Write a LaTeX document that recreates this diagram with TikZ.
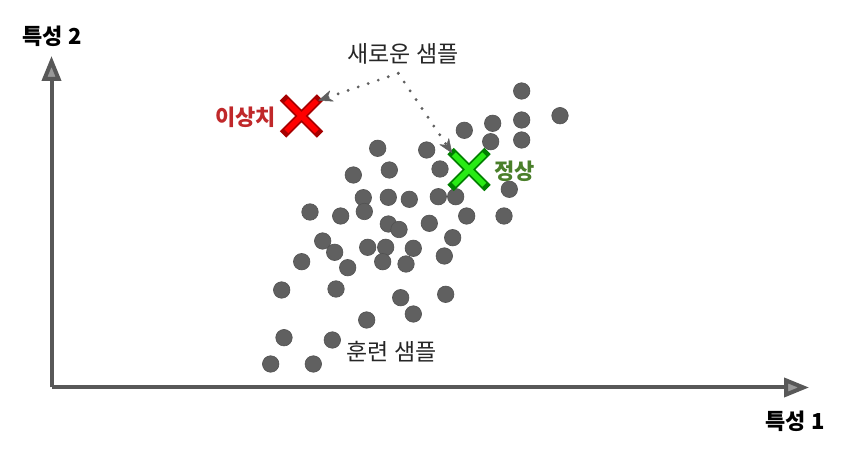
\documentclass[tikz,border=0pt]{standalone}
\usepackage{fontspec}
\setmainfont{Noto Sans CJK KR}
\usetikzlibrary{arrows.meta,shapes.misc}

\definecolor{dotgray}{HTML}{606060}
\definecolor{axisgray}{HTML}{585858}
\definecolor{outred}{HTML}{C0282A}
\definecolor{inlgreen}{HTML}{4A7F2A}

\tikzset{
  sample/.style={circle, fill=dotgray, draw=dotgray!85!black, line width=0.6pt, minimum size=16.5pt, inner sep=0pt},
  axis/.style={draw=axisgray, line width=4pt, -{Triangle[length=25pt, width=19pt, fill=gray!80]}},
  newarrow/.style={draw=gray!75!black, line width=3.2pt, dash pattern=on 0pt off 10.6pt, line cap=round, -{Stealth[length=15pt, width=12pt, round, line width=0.5pt]}},
  label/.style={font=\fontsize{23}{26}\selectfont, inner sep=0pt},
  boldlabel/.style={font=\fontsize{22}{26}\selectfont\bfseries, inner sep=0pt},
  xmark/.style={cross out, minimum size=#1, inner sep=0pt, line cap=butt},
}

\begin{document}
\begin{tikzpicture}[x=1pt, y=-1pt]

		\useasboundingbox (0,0) rectangle (844,454);

		% training samples
		\foreach \x/\y [count=\i] in {521.7/91, 560/115.7, 492.7/123.3, 521.7/120, 464.3/130.3,
		    490.7/141.7, 521.7/140, 377.7/148.3, 426.7/150, 440/169, 389.3/170, 353.3/175,
		    509.3/189.3, 363.3/197.7, 388.3/197.3, 409.3/199.3, 438.3/196.7, 455.7/196.7,
		    310/212, 340.7/216, 364.3/211.5, 466.7/216, 504/216, 388.3/224, 399/229.5,
		    429.3/223.3, 452.7/237.7, 322.7/241, 334.7/252.3, 367.7/247.3, 385.7/247.3,
		    413.3/248.3, 444.3/256, 301.7/261.7, 347.7/267.7, 382.7/261.7, 406/264,
		    281.7/290, 336/289, 400.7/297.7, 445.7/294.3, 413.3/314, 366.7/320,
		    284/337.7, 332.3/340, 270.7/364, 313.3/364} {
		    \node (s\i) at (\x,\y) [sample] {};
		}

		% axes
		\coordinate (origin) at (51.5,387.5);
		\coordinate (xend) at (809,387.5);
		\coordinate (yend) at (51.5,56);
		\draw [axis] (origin) -- (xend);
		\draw [axis] (origin) -- (yend);
		\node (f2) at (52,36) [boldlabel] {특성 2};
		\node (f1) at (795,421) [boldlabel] {특성 1};

		% new samples
		\node (outX) at (301.5,116) [xmark=28pt, draw=red!65!black, line width=9pt] {};
		\node (outXfill) at (outX) [xmark=25pt, draw=red, line width=5.5pt] {};
		\node (inX) at (469,169.5) [xmark=28pt, draw=green!50!black, line width=9pt] {};
		\node (inXfill) at (inX) [xmark=25pt, draw={rgb,255:red,40;green,235;blue,20}, line width=5.5pt] {};

		\node (outl) at (245.5,117) [boldlabel, text=outred] {이상치};
		\node (inl) at (514.5,171) [boldlabel, text=inlgreen] {정상};
		\node (new) at (403,54) [label, text=black!85] {새로운 샘플};
		\node (train) at (391.5,351.5) [label, text=black!85] {훈련 샘플};

		\coordinate (src) at (398.3,73.3);
		\coordinate (outtip) at (318.5,100.5);
		\coordinate (intip) at (452,153);
		\draw [newarrow] (src) -- (outtip);
		\draw [newarrow] (src) -- (intip);
	\end{tikzpicture}
\end{document}
